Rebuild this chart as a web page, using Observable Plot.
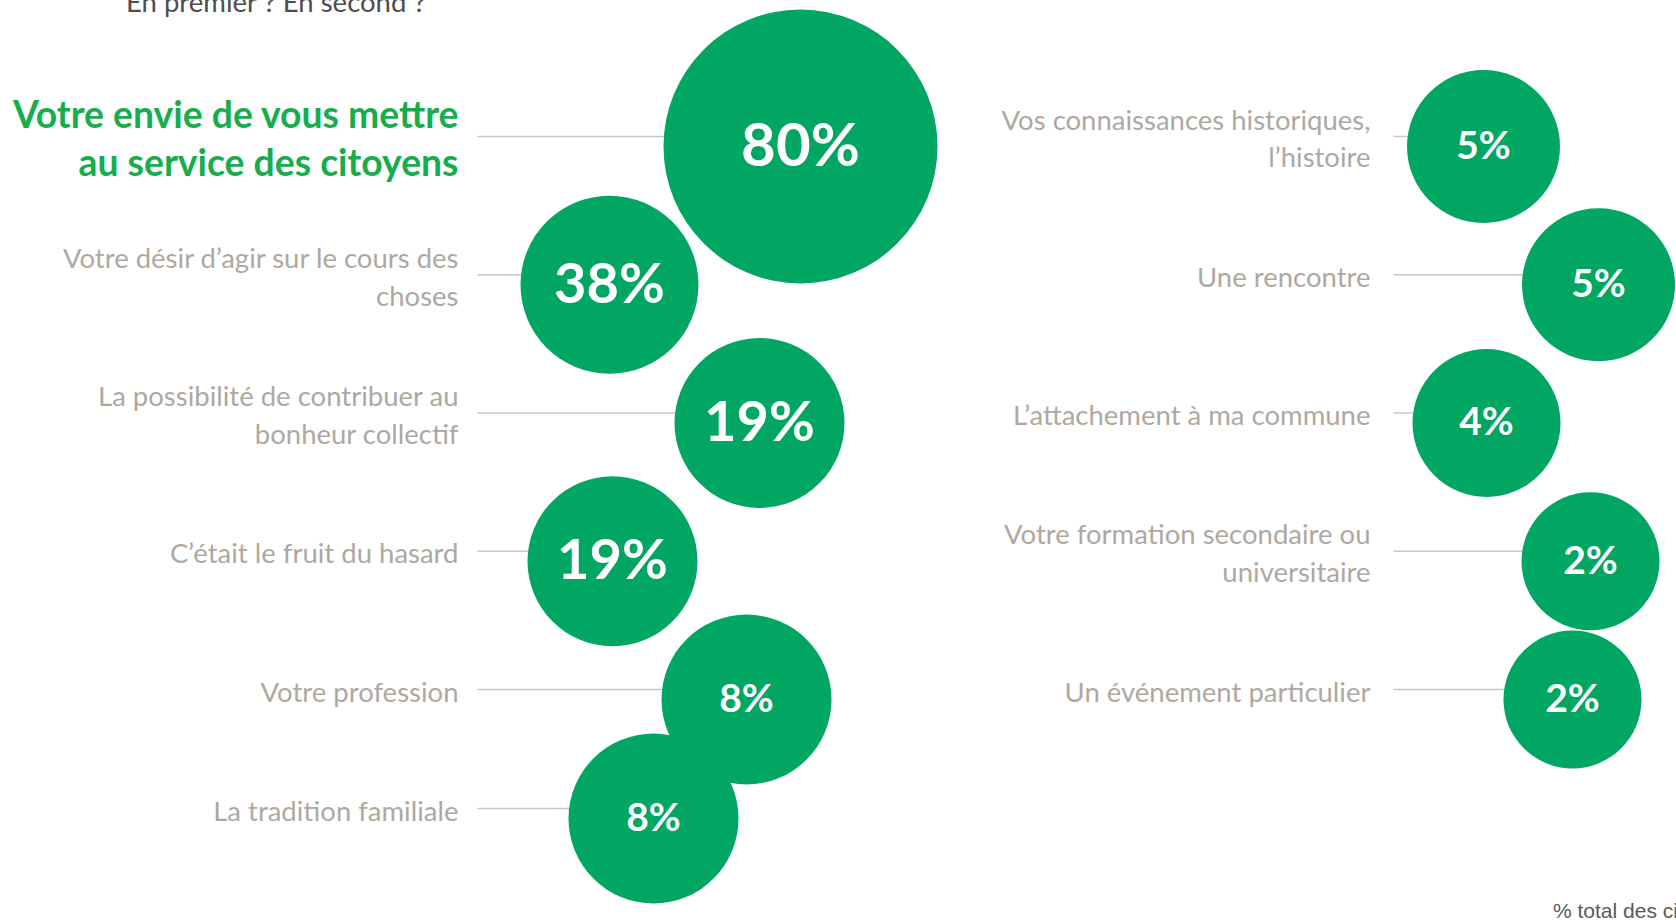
<!DOCTYPE html>
<html><head><meta charset="utf-8">
<script src="https://cdn.jsdelivr.net/npm/d3@7"></script>
<script src="https://cdn.jsdelivr.net/npm/@observablehq/plot@0.6"></script>
<style>
html,body{margin:0;padding:0;background:#fff;overflow:hidden;}
#wrap{position:relative;width:1676px;height:920px;overflow:hidden;}
#chart svg{display:block;}
#sub{position:absolute;left:126px;top:-12px;font:27.5px Lato,sans-serif;color:#4d4d4d;line-height:1;white-space:nowrap;}
#cap{position:absolute;left:1553px;top:900px;font:21px "Liberation Sans",Arial,sans-serif;color:#595959;line-height:1;white-space:nowrap;}
</style></head><body>
<div id="wrap"><div id="chart"></div><div id="sub">En premier ? En second ?</div><div id="cap">% total des citoyens</div></div>
<script>
// ---- data ----
const labels = [
  "Votre envie de vous mettre\nau service des citoyens",
  "Votre désir d’agir sur le cours des\nchoses",
  "La possibilité de contribuer au\nbonheur collectif",
  "C’était le fruit du hasard",
  "Votre profession",
  "La tradition familiale",
  "Vos connaissances historiques,\nl’histoire",
  "Une rencontre",
  "L’attachement à ma commune",
  "Votre formation secondaire ou\nuniversitaire",
  "Un événement particulier"
];
const values = [80, 38, 19, 19, 8, 8, 5, 5, 4, 2, 2];

// ---- layout (kept apart from the data) ----
const perColumn = 6;                       // first column holds 6 items
const bubbleX = [800, 609, 759, 612, 746, 653, 1483, 1598, 1486, 1590, 1572];
const labelRight = [458, 1370];            // right edge of labels per column
const leaderStart = [477, 1393];

const rows = labels.map((label, i) => ({
  label, value: values[i],
  col: i < perColumn ? 0 : 1,
  rank: i < perColumn ? i : i - perColumn,
  bx: bubbleX[i]
}));
rows.forEach(d => { d.lx = labelRight[d.col]; d.sx = leaderStart[d.col]; });

const green = "#00A661";
const grey = "#AFA8A1";

const chart = Plot.plot({
  width: 1676, height: 920, margin: 0,
  style: {background: "white"},
  x: {type: "linear", domain: [0, 1676], axis: null},
  y: {type: "linear", domain: [0, 4, 5], range: [136, 689, 808], axis: null},
  r: {type: "linear", domain: [2, 5, 8, 19, 38, 80], range: [69, 76.5, 85, 85, 89, 137]},
  marks: [
    Plot.link(rows, {x1: "sx", x2: "bx", y1: "rank", y2: "rank", stroke: "#C8C8C8", strokeWidth: 1.6}),
    Plot.dot(rows, {x: "bx", y: "rank", r: "value", fill: green, dy: 10}),
    Plot.text(rows, {x: "bx", y: "rank", dy: 10, text: d => d.value + "%", fill: "white",
      fontFamily: "Lato", fontWeight: "bold",
      fontSize: d => d.value >= 50 ? 60 : d.value >= 10 ? 56 : 39}),
    Plot.text(rows.filter((d, i) => i === 0), {x: "lx", y: "rank", text: "label", textAnchor: "end",
      lineAnchor: "middle", lineHeight: 1.28, fill: "#16AE4C", fontFamily: "Lato", fontWeight: "bold", fontSize: 37.3}),
    Plot.text(rows.filter((d, i) => i !== 0), {x: "lx", y: "rank", text: "label", textAnchor: "end",
      lineAnchor: "middle", lineHeight: 1.37, fill: grey, fontFamily: "Lato", fontSize: 27.5})
  ]
});
document.getElementById("chart").appendChild(chart);
</script>
</body></html>
